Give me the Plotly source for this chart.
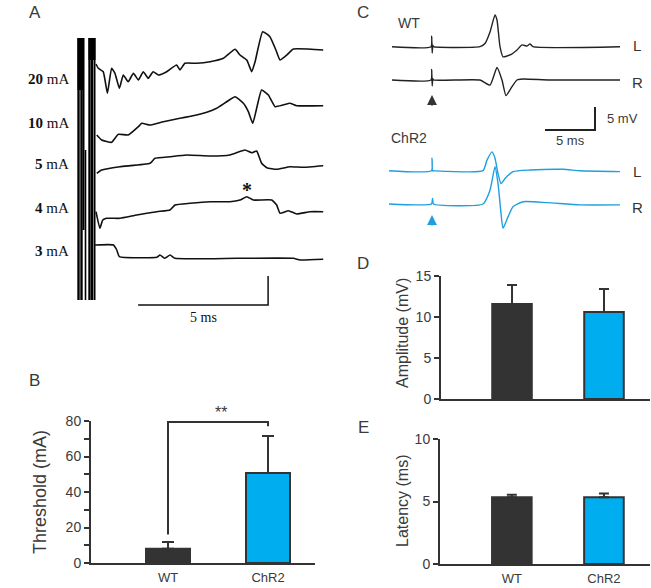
import plotly.graph_objects as go

W, H = 651, 588
def fx(p): return p / W
def fy(p): return 1 - p / H

DARK = "#333333"
TXT = "#3a3a3a"
BLUE = "#00aeef"
BLUE_TRACE = "#1e9fe0"
SANS = "Liberation Sans, Arial, sans-serif"
SERIF = "Liberation Serif, Times New Roman, serif"

# ---------------- Panel A : sweeps at increasing stimulus (time ms, deflection a.u.)
A_labels = ["20", "10", "5", "4", "3"]
A_offsets = [0, -55.7, -115.7, -161.7, -209.3]
A_t = [
    [0.73, 0.82, 1.01, 1.17, 1.33, 1.46, 1.63, 1.78, 1.97, 2.17, 2.36, 2.55, 2.74, 2.93, 3.13, 3.45, 3.83, 3.96,
     4.15, 4.60, 5.12, 5.63, 6.08, 6.27, 6.53, 6.72, 6.85, 7.14, 7.42, 7.65, 7.81, 8.07, 8.32, 9.47],
    [0.76, 0.95, 1.33, 1.59, 1.97, 2.36, 2.49, 2.81, 3.32, 3.96, 4.60, 4.99, 5.37, 5.76, 6.08, 6.40, 6.59, 6.76,
     6.91, 7.10, 7.36, 7.62, 7.93, 8.19, 8.45, 9.47],
    [0.76, 0.95, 1.65, 2.81, 3.00, 3.58, 4.22, 5.12, 5.88, 6.46, 6.72, 6.91, 7.10, 7.30, 7.68, 8.19, 8.70, 9.47],
    [0.73, 0.88, 0.99, 1.14, 1.65, 2.30, 3.07, 3.58, 3.77, 4.35, 5.12, 5.88, 6.27, 6.53, 6.78, 7.49, 7.68, 7.81,
     8.13, 8.45, 8.96, 9.47],
    [0.69, 1.40, 1.53, 1.63, 3.07, 3.19, 3.38, 3.58, 3.77, 6.14, 8.32, 8.58, 9.47],
]
A_v = [
    [-14, -18.3, -21.7, -43.3, -18.3, -23.3, -38.3, -25, -31.7, -23.3, -30, -21.7, -28.3, -21.7, -25, -21.7, -15, -20,
     -13.3, -13.3, -11.7, -8.3, 0.7, -5, -10, -21.7, -11.7, 18.3, 13.3, 0, -10, -5, 1, 0],
    [-29.3, -34.3, -36.6, -28.6, -29.3, -21, -17.6, -19.3, -16, -12.6, -9.3, -6.6, -2.6, 4, 9, 2.4, -6, -17.6,
     -2.6, 15.7, 10.7, -1, 0.7, 2.4, 0, 0],
    [-7.6, -4.3, -1, 2.4, 7.4, 9, 10.7, 9.7, 10.7, 15.7, 13, 14.7, 2.4, -2, -3.6, -1, -1.6, 0],
    [0, -16.6, -8.3, -6.6, -6.6, -3.3, 0, 1.7, 6.7, 8.4, 10, 10, 11.7, 15, 11.7, 11.7, 6.7, -1.6,
     1, -2.3, 0, 0],
    [14.3, 14.3, 9.3, 2.6, 2, 4.3, 1, 4.3, 1, 1, 1, -0.7, 0],
]
# clipped stimulus artifacts (time ms, top / bottom a.u.)
A_artifact_t = [0.146, 0.577, 0.058, 0.173, 0.25, 0.327, 0.481, 0.577, 0.673]
A_artifact_top = [12, 12, 12, 12, 12, -100, 12, 12, 12]
A_artifact_bottom = [-40, -10, -250, -250, -180, -250, -250, -250, -250]
A_artifact_style_w = [6.5, 7, 2.4, 2.4, 2, 1.6, 2.4, 2, 2]
A_star = (6.53, 21.5)
A_scale_ms = 5
A_scale_v = 29
A_scale_origin = (7.35, -255)

# ---------------- Panel C : compound responses (time ms, mV)
C_t = {
    "WT_L": [-4.0, -0.1, -0.03, 0.02, 0.08, 0.15, 4.8, 5.3, 5.8, 6.3, 6.5, 6.8, 7.1, 7.8, 8.5, 9.0, 9.5, 9.8, 10.1, 18.8],
    "WT_R": [-4.0, -0.1, -0.03, 0.02, 0.08, 0.15, 4.8, 5.8, 6.5, 7.0, 7.4, 8.0, 8.5, 9.1, 11.8, 18.8],
    "ChR2_L": [-4.3, -0.05, 0.0, 0.05, 0.1, 5.1, 5.5, 6.0, 6.3, 6.6, 6.9, 7.3, 8.1, 9.8, 13.1, 14.8, 18.8],
    "ChR2_R": [-4.3, -0.05, 0.05, 0.15, 5.1, 5.8, 6.3, 6.6, 6.9, 7.1, 7.6, 8.1, 9.1, 11.5, 14.8, 18.8],
}
C_v = {
    "WT_L": [0, 0, 2.3, -1.4, 0.3, 0, 0, 0.7, 3.2, 6.9, 5.8, 0, -2.2, -1.8, -0.7, 0.4, 0.15, 0.6, 0, 0],
    "WT_R": [0, 0, 2.3, -1.3, 0.3, 0, 0, -1.1, 2.7, 0, -3.4, -1.45, 0, 0.2, 0, 0],
    "ChR2_L": [0, 0, 2.7, 0, 0, 0, 2.3, 4.1, 2.7, -0.6, -2.8, -1.7, -0.2, 0.15, 0.3, 0, -0.2],
    "ChR2_R": [0, 0, 1.2, 0, 0, 3.0, 8.1, 4.5, -2.0, -5.3, -2.8, -0.6, 0.5, 0.3, -0.2, -0.2],
}
C_offsets = {"WT_L": 0, "WT_R": -7.24, "ChR2_L": -26.96, "ChR2_R": -34.2}
C_colors = {"WT_L": "#222222", "WT_R": "#222222", "ChR2_L": BLUE_TRACE, "ChR2_R": BLUE_TRACE}
C_scale_ms = 5
C_scale_mv = 5
C_scale_origin = (16.3, -18.1)
C_arrow_y = {"WT": -10.5, "ChR2": -36.6}

# ---------------- Bar data
groups = ["WT", "ChR2"]
threshold_mean = [8.0, 50.7]
threshold_sem = [3.8, 20.8]
sig_bracket_y = 79.5
sig_leg_bottom = [16, 77]
amplitude_mean = [11.6, 10.6]
amplitude_sem = [2.3, 2.8]
latency_mean = [5.35, 5.35]
latency_sem = [0.2, 0.3]

fig = go.Figure()

# Panel A traces
for ta, top, bot, w in zip(A_artifact_t, A_artifact_top, A_artifact_bottom, A_artifact_style_w):
    fig.add_trace(go.Scatter(x=[ta, ta], y=[bot, top], mode="lines",
                             line=dict(color="#000000", width=w), xaxis="x", yaxis="y", hoverinfo="skip"))
for t, v, off in zip(A_t, A_v, A_offsets):
    fig.add_trace(go.Scatter(x=t, y=[a + off for a in v], mode="lines",
                             line=dict(color="#111111", width=1.6, shape="spline", smoothing=0.4),
                             xaxis="x", yaxis="y", hoverinfo="skip"))
sx, sy = A_scale_origin
fig.add_trace(go.Scatter(x=[sx - A_scale_ms, sx, sx], y=[sy, sy, sy + A_scale_v], mode="lines",
                         line=dict(color="#111111", width=1.5), xaxis="x", yaxis="y", hoverinfo="skip"))

# Panel C traces
for k in C_t:
    fig.add_trace(go.Scatter(x=C_t[k], y=[a + C_offsets[k] for a in C_v[k]], mode="lines",
                             line=dict(color=C_colors[k], width=1.4, shape="spline", smoothing=0.5),
                             xaxis="x2", yaxis="y2", hoverinfo="skip"))
cx, cy = C_scale_origin
fig.add_trace(go.Scatter(x=[cx - C_scale_ms, cx, cx], y=[cy, cy, cy + C_scale_mv], mode="lines",
                         line=dict(color="#222222", width=2), xaxis="x2", yaxis="y2", hoverinfo="skip"))

# Bars
def add_bars(mean, sem, xa, ya, width, capw):
    fig.add_trace(go.Bar(x=[0, 1], y=mean, width=width,
                         marker=dict(color=[DARK, BLUE], line=dict(color=DARK, width=2)),
                         error_y=dict(type="data", symmetric=False, array=sem, arrayminus=[0, 0],
                                      color=DARK, thickness=2, width=capw),
                         xaxis=xa, yaxis=ya, hoverinfo="skip"))

add_bars(threshold_mean, threshold_sem, "x3", "y3", 0.44, 6)
add_bars(amplitude_mean, amplitude_sem, "x4", "y4", 0.43, 5)
add_bars(latency_mean, latency_sem, "x5", "y5", 0.43, 5)

fig.add_trace(go.Scatter(x=[0, 0, 1, 1], y=[sig_leg_bottom[0], sig_bracket_y, sig_bracket_y, sig_leg_bottom[1]],
                         mode="lines", line=dict(color=DARK, width=2), cliponaxis=False,
                         xaxis="x3", yaxis="y3", hoverinfo="skip"))

hidden = dict(visible=False, showgrid=False, zeroline=False, fixedrange=True, automargin=False)

def yax(dom, rng, dtick, minor=None):
    d = dict(domain=dom, range=rng, dtick=dtick, showline=True, linecolor=DARK, linewidth=2,
             ticks="outside", ticklen=5, tickwidth=2, tickcolor=DARK, automargin=False,
             tickfont=dict(family=SANS, size=14, color=TXT), showgrid=False, zeroline=False, fixedrange=True)
    if minor:
        d["minor"] = dict(dtick=minor, ticks="outside", ticklen=5, tickwidth=2, tickcolor=DARK, showgrid=False)
    return d

def xax(dom, rng, labels=True):
    return dict(domain=dom, range=rng, showline=True, linecolor=DARK, linewidth=2, ticks="",
                tickvals=[0, 1], ticktext=groups if labels else ["", ""], showticklabels=labels,
                tickfont=dict(family=SANS, size=13, color=TXT), showgrid=False, zeroline=False,
                fixedrange=True, ticklabelstandoff=1, automargin=False)

fig.update_layout(
    template="none",
    width=W, height=H, margin=dict(l=0, r=0, t=0, b=0, pad=0, autoexpand=False),
    paper_bgcolor="white", plot_bgcolor="rgba(0,0,0,0)", showlegend=False, bargap=0,
    xaxis=dict(domain=[0, 1], range=[-77 / 26, (W - 77) / 26], **hidden),
    yaxis=dict(domain=[0, 1], range=[-538, 50], anchor="x", **hidden),
    xaxis2=dict(domain=[0, 1], range=[-43.2, 21.9], anchor="y2", **hidden),
    yaxis2=dict(domain=[0, 1], range=[-117.68, 10.15], anchor="x2", **hidden),
    xaxis3=dict(anchor="y3", **xax([fx(91), fx(315)], [-0.77, 1.47])),
    yaxis3=dict(anchor="x3", **yax([fy(563), fy(421)], [0, 80], 20, minor=10)),
    xaxis4=dict(anchor="y4", **xax([fx(441), fx(650)], [-0.772, 1.5], labels=False)),
    yaxis4=dict(anchor="x4", **yax([fy(399), fy(276)], [0, 15], 5)),
    xaxis5=dict(anchor="y5", **xax([fx(440), fx(650)], [-0.78, 1.5])),
    yaxis5=dict(anchor="x5", **yax([fy(564), fy(439)], [0, 10], 5)),
)

ann = []
def text(x, y, s, size=14, font=SANS, color=TXT, xanchor="center", angle=0, xref="paper", yref="paper"):
    ann.append(dict(x=x, y=y, xref=xref, yref=yref, text=s, showarrow=False, xanchor=xanchor,
                    yanchor="middle", textangle=angle, font=dict(family=font, size=size, color=color)))

# panel letters
for L, (px_, py_) in {"A": (35, 13), "B": (34, 380), "C": (363, 13), "D": (363, 263), "E": (363, 427)}.items():
    text(fx(px_), fy(py_), L, size=17)

# Panel A labels
for lab, py_ in zip(A_labels, [79, 123, 164, 208, 251]):
    text(fx(71), fy(py_), f"<b>{lab}</b> mA", size=15, font=SERIF, color="#111111", xanchor="right")
text(A_star[0], A_star[1] + A_offsets[3], "<b>*</b>", size=20, font=SERIF, color="#111111", xref="x", yref="y")
text(sx - A_scale_ms / 2, sy - 12, "5 ms", size=14, font=SERIF, color="#111111", xref="x", yref="y")

# Panel C labels
text(fx(409), fy(23), "WT", size=14)
text(fx(409), fy(138), "ChR2", size=14)
for s, py_ in [("L", 45), ("R", 82), ("L", 171), ("R", 207)]:
    text(fx(637), fy(py_), s, size=15, color="#333333")
text(cx + 1.0, cy + C_scale_mv / 2, "5 mV", size=13, xanchor="left", xref="x2", yref="y2")
text(cx - C_scale_ms / 2, cy - 2.4, "5 ms", size=13, xref="x2", yref="y2")
for key, col in [("WT", "#333333"), ("ChR2", BLUE_TRACE)]:
    ann.append(dict(x=0, y=C_arrow_y[key], xref="x2", yref="y2", ax=0, ay=12, text="", showarrow=True,
                    arrowhead=2, arrowsize=1.1, arrowwidth=1.8, arrowcolor=col))

# axis titles
text(fx(40), fy(492), "Threshold (mA)", size=18, angle=-90)
text(fx(402), fy(333), "Amplitude (mV)", size=16, angle=-90)
text(fx(402), fy(501), "Latency (ms)", size=16, angle=-90)
# significance stars
text(fx(221), fy(412), "**", size=16)

fig.update_layout(annotations=ann)
fig.write_html("out.html", config={"displayModeBar": False, "staticPlot": True},
               post_script="document.body.style.margin='0px';")
